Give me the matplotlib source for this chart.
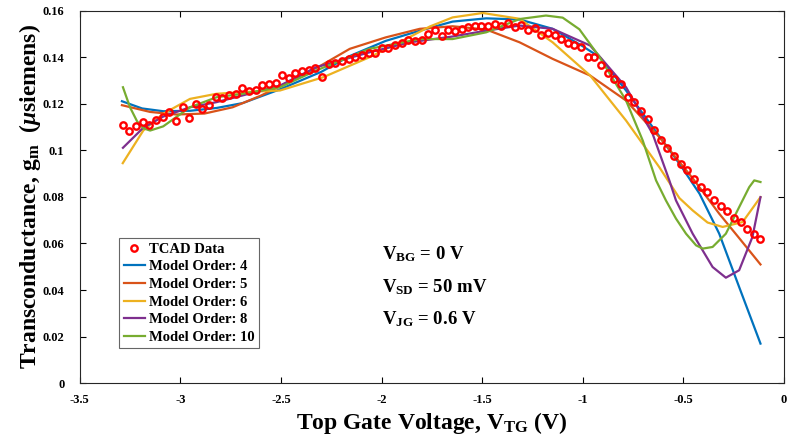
import numpy as np
import matplotlib
matplotlib.use("Agg")
import matplotlib.pyplot as plt
from matplotlib.ticker import FuncFormatter

plt.rcParams['font.family'] = ['Liberation Serif', 'DejaVu Serif']
plt.rcParams['font.weight'] = 'bold'
plt.rcParams['mathtext.fontset'] = 'custom'
plt.rcParams['mathtext.rm'] = 'Liberation Serif:bold'
plt.rcParams['mathtext.it'] = 'Liberation Serif:bold:italic'
plt.rcParams['mathtext.bf'] = 'Liberation Serif:bold'
plt.rcParams['axes.unicode_minus'] = False

# TCAD data (97 evenly spaced bias points)
tcad_vtg = np.linspace(-3.286, -0.117, 97)
tcad_gm = [0.1108, 0.1082, 0.1103, 0.1120, 0.1108, 0.1131, 0.1145, 0.1163, 0.1125, 0.1185,
           0.1140, 0.1200, 0.1177, 0.1194, 0.1228, 0.1223, 0.1237, 0.1240, 0.1268, 0.1257,
           0.1260, 0.1280, 0.1283, 0.1291, 0.1323, 0.1311, 0.1331, 0.1340, 0.1346, 0.1354,
           0.1317, 0.1369, 0.1374, 0.1383, 0.1391, 0.1403, 0.1411, 0.1420, 0.1420, 0.1440,
           0.1440, 0.1454, 0.1460, 0.1474, 0.1471, 0.1474, 0.1500, 0.1517, 0.1489, 0.1517,
           0.1511, 0.1520, 0.1529, 0.1534, 0.1534, 0.1534, 0.1543, 0.1532, 0.1546, 0.1529,
           0.1540, 0.1517, 0.1526, 0.1497, 0.1506, 0.1494, 0.1477, 0.1463, 0.1454, 0.1443,
           0.1403, 0.1400, 0.1366, 0.1331, 0.1308, 0.1286, 0.1231, 0.1208, 0.1171, 0.1134,
           0.1088, 0.1045, 0.1011, 0.0977, 0.0943, 0.0917, 0.0876, 0.0842, 0.0819, 0.0788,
           0.0762, 0.0739, 0.0708, 0.0694, 0.0662, 0.0642, 0.0619]

# model fits
o4_x = [-3.29, -3.19, -3.085, -2.95, -2.82, -2.69, -2.505, -2.3, -2.158, -1.98, -1.81, -1.647,
        -1.48, -1.314, -1.15, -1.0, -0.916, -0.785, -0.653, -0.52, -0.42, -0.322, -0.223, -0.117]
o4_y = [0.1211, 0.1180, 0.1168, 0.1170, 0.1182, 0.1203, 0.1262, 0.1337, 0.1405, 0.1470, 0.1514, 0.1553,
        0.1567, 0.1562, 0.1522, 0.1447, 0.1400, 0.1257, 0.1100, 0.0943, 0.0814, 0.0642, 0.0413, 0.0170]

o5_x = [-3.29, -3.15, -3.02, -2.88, -2.74, -2.6, -2.505, -2.3, -2.158, -1.98, -1.81, -1.647,
        -1.48, -1.314, -1.15, -0.963, -0.785, -0.62, -0.454, -0.322, -0.22, -0.117]
o5_y = [0.1194, 0.1165, 0.1154, 0.1158, 0.1185, 0.1235, 0.1275, 0.1365, 0.1436, 0.1485, 0.1522, 0.1533,
        0.1519, 0.1464, 0.1393, 0.1321, 0.1214, 0.1057, 0.0880, 0.0728, 0.0620, 0.0510]

o6_x = [-3.286, -3.184, -3.085, -2.952, -2.82, -2.69, -2.505, -2.29, -2.06, -1.895, -1.76, -1.647,
        -1.497, -1.314, -1.15, -0.963, -0.785, -0.62, -0.52, -0.454, -0.38, -0.305, -0.206, -0.117]
o6_y = [0.0945, 0.1085, 0.1157, 0.1221, 0.1243, 0.1250, 0.1257, 0.1314, 0.1400, 0.1471, 0.1532, 0.1571,
        0.1590, 0.1565, 0.1464, 0.1321, 0.1128, 0.0928, 0.0795, 0.0742, 0.0690, 0.0671, 0.0692, 0.0799]

o8_x = [-3.285, -3.184, -3.085, -2.952, -2.82, -2.69, -2.505, -2.325, -2.06, -1.86, -1.647, -1.48,
        -1.314, -1.15, -0.963, -0.785, -0.653, -0.57, -0.537, -0.454, -0.355, -0.289, -0.223, -0.157, -0.117]
o8_y = [0.1011, 0.1097, 0.1145, 0.1185, 0.1207, 0.1236, 0.1278, 0.1357, 0.1421, 0.1464, 0.1489, 0.1514,
        0.1536, 0.1522, 0.1450, 0.1271, 0.1071, 0.0871, 0.0785, 0.0642, 0.0499, 0.0453, 0.0485, 0.0628, 0.0799]

o10_x = [-3.285, -3.25, -3.215, -3.184, -3.15, -3.085, -2.952, -2.82, -2.69, -2.505, -2.325, -2.06,
         -1.81, -1.647, -1.48, -1.314, -1.183, -1.1, -1.017, -0.916, -0.785, -0.702, -0.636, -0.587,
         -0.537, -0.487, -0.437, -0.404, -0.355, -0.289, -0.223, -0.173, -0.148, -0.117]
o10_y = [0.1271, 0.1185, 0.1125, 0.1095, 0.1085, 0.1103, 0.1185, 0.1228, 0.1243, 0.1271, 0.1343, 0.1436,
         0.1478, 0.1478, 0.1507, 0.1564, 0.1579, 0.1570, 0.1520, 0.1400, 0.1214, 0.1042, 0.0871, 0.0785,
         0.0707, 0.0642, 0.0592, 0.0578, 0.0585, 0.0642, 0.0756, 0.0842, 0.0871, 0.0864]

fig = plt.figure(figsize=(7.89, 4.44), dpi=100)
ax = fig.add_axes([0.101, 0.137, 0.8927, 0.839])

ax.plot(tcad_vtg, tcad_gm, 'o', color='red', markerfacecolor='none', markersize=4.6,
        markeredgewidth=1.7, label='TCAD Data', zorder=3)
ax.plot(o4_x, o4_y, color='#0072BD', lw=1.6, label='Model Order: 4')
ax.plot(o5_x, o5_y, color='#D95319', lw=1.6, label='Model Order: 5')
ax.plot(o6_x, o6_y, color='#EDB120', lw=1.6, label='Model Order: 6')
ax.plot(o8_x, o8_y, color='#7E2F8E', lw=1.6, label='Model Order: 8')
ax.plot(o10_x, o10_y, color='#77AC30', lw=1.6, label='Model Order: 10')

ax.set_xlim(-3.5, 0)
ax.set_ylim(0, 0.16)
ax.set_xticks(np.arange(-3.5, 0.01, 0.5))
ax.set_yticks(np.arange(0, 0.161, 0.02))
ax.xaxis.set_major_formatter(FuncFormatter(lambda v, p: '%g' % round(v, 3)))
ax.yaxis.set_major_formatter(FuncFormatter(lambda v, p: '%g' % round(v, 3)))
ax.tick_params(direction='in', top=True, right=True, length=4, width=0.8, labelsize=9)
ax.tick_params(axis='x', pad=8)
ax.tick_params(axis='y', pad=11)
for s in ax.spines.values():
    s.set_linewidth(0.8)
    s.set_color('#262626')

ax.set_xlabel(r'Top Gate Voltage, $\mathrm{V_{TG}}$ (V)', fontsize=17, fontweight='bold', labelpad=3)
ax.set_ylabel(r'Transconductance, $\mathrm{g_m}$  ($\mu$siemens)', fontsize=17, fontweight='bold', labelpad=0)

ax.text(-2.0, 0.0555, r'$\mathrm{V_{BG}}$ = 0 V', fontsize=13.5, fontweight='bold', va='center')
ax.text(-2.0, 0.0413, r'$\mathrm{V_{SD}}$ = 50 mV', fontsize=13.5, fontweight='bold', va='center')
ax.text(-2.0, 0.0275, r'$\mathrm{V_{JG}}$ = 0.6 V', fontsize=13.5, fontweight='bold', va='center')

leg = ax.legend(loc='lower left', bbox_to_anchor=(0.056, 0.094), borderaxespad=0, fancybox=False,
                edgecolor='0.4', framealpha=1, handlelength=1.5, handletextpad=0.25,
                labelspacing=0.3, borderpad=0.3, prop={'weight': 'bold', 'size': 10.5})
leg.get_frame().set_linewidth(0.8)

fig.savefig('out.png', dpi=100)
